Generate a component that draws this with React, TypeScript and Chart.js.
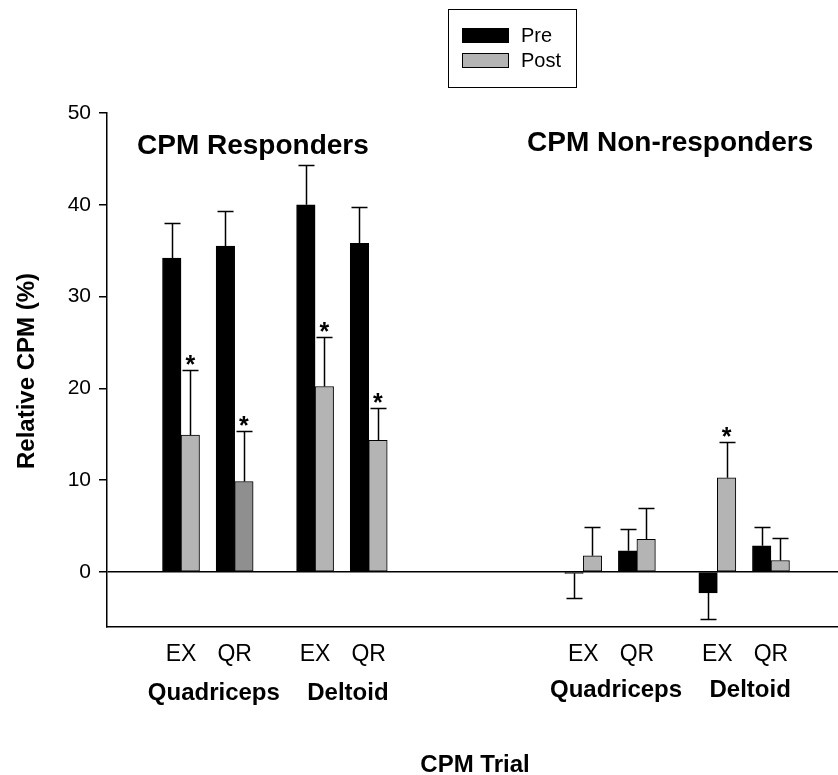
import React, { useEffect, useRef } from 'react';
import { Chart, registerables } from 'chart.js';

Chart.register(...registerables);

// ---- data ----
const trialLabels = ['EX', 'QR', 'EX', 'QR', 'EX', 'QR', 'EX', 'QR'];
const trialSlots = [0, 2, 5, 7, 15, 17, 20, 22];
const muscleLabels = ['Quadriceps', 'Deltoid', 'Quadriceps', 'Deltoid'];
const panelTitles = ['CPM Responders', 'CPM Non-responders'];
const seriesNames = ['Pre', 'Post'];
const preValues = [34.2, 35.5, 40.0, 35.8, -0.15, 2.3, -2.3, 2.85];
const preErrors = [3.8, 3.8, 4.3, 4.0, 2.7, 2.35, 2.8, 2.05];
const postValues = [14.9, 9.85, 20.2, 14.35, 1.75, 3.55, 10.25, 1.25];
const postErrors = [7.1, 5.45, 5.4, 3.55, 3.15, 3.4, 3.95, 2.45];
const postSignificant = [true, true, true, true, false, false, true, false];
const yTickValues = [0, 10, 20, 30, 40, 50];

// ---- styles ----
const FONT = '"Liberation Sans", Arial, Helvetica, sans-serif';
const PRE_COLOR = '#000000';
const POST_COLOR = '#b4b4b4';
const POST_DARK_COLOR = '#8f8f8f';
const POST_DARK_INDEX = 1;

const overlayPlugin = {
  id: 'overlay',
  afterDatasetsDraw(chart: any) {
    const ctx = chart.ctx;
    const yScale = chart.scales.y;
    const errs = [preErrors, postErrors];
    const vals = [preValues, postValues];
    ctx.save();
    ctx.strokeStyle = '#000';
    ctx.lineWidth = 1.5;
    [0, 1].forEach((d) => {
      const meta = chart.getDatasetMeta(d);
      meta.data.forEach((bar: any, i: number) => {
        const v = vals[d][i];
        const e = errs[d][i];
        const end = v >= 0 ? v + e : v - e;
        const y0 = bar.y;
        const y1 = Math.round(yScale.getPixelForValue(end)) + 0.5;
        const x = Math.round(bar.x) + 0.5;
        ctx.beginPath();
        ctx.moveTo(x, y0);
        ctx.lineTo(x, y1);
        ctx.moveTo(x - 8, y1);
        ctx.lineTo(x + 8, y1);
        ctx.stroke();
        if (d === 1 && postSignificant[i]) {
          ctx.fillStyle = '#000';
          ctx.font = `bold 25px ${FONT}`;
          ctx.textAlign = 'center';
          ctx.textBaseline = 'alphabetic';
          ctx.fillText('*', bar.x, y1 + 2);
        }
      });
    });
    ctx.restore();
  },
  afterDraw(chart: any) {
    const ctx = chart.ctx;
    const xScale = chart.scales.x;
    ctx.save();
    ctx.fillStyle = '#000';
    // panel titles
    ctx.font = `bold 28px ${FONT}`;
    ctx.textAlign = 'left';
    ctx.textBaseline = 'alphabetic';
    ctx.fillText(panelTitles[0], 137, 154);
    ctx.fillText(panelTitles[1], 527, 151);
    // muscle labels
    ctx.font = `bold 24px ${FONT}`;
    ctx.textAlign = 'center';
    muscleLabels.forEach((m, k) => {
      const a = xScale.getPixelForValue(trialSlots[2 * k]);
      const b = xScale.getPixelForValue(trialSlots[2 * k + 1]);
      ctx.fillText(m, (a + b) / 2 + 6, k < 2 ? 700 : 697);
    });
    // x title
    ctx.fillText('CPM Trial', 475, 772);
    // y title
    ctx.save();
    ctx.translate(34, 371);
    ctx.rotate(-Math.PI / 2);
    ctx.textBaseline = 'alphabetic';
    ctx.fillText('Relative CPM (%)', 0, 0);
    ctx.restore();
    // legend
    ctx.lineWidth = 1;
    ctx.strokeStyle = '#000';
    ctx.strokeRect(448.5, 9.5, 128, 78);
    const sw = [PRE_COLOR, POST_COLOR];
    const sy = [28, 53];
    ctx.font = `20px ${FONT}`;
    ctx.textAlign = 'left';
    ctx.textBaseline = 'middle';
    seriesNames.forEach((n, i) => {
      ctx.fillStyle = sw[i];
      ctx.fillRect(462, sy[i], 47, 15);
      ctx.strokeRect(462.5, sy[i] + 0.5, 46, 14);
      ctx.fillStyle = '#000';
      ctx.fillText(n, 521, sy[i] + 8);
    });
    ctx.restore();
  },
};

export default function App() {
  const ref = useRef<HTMLCanvasElement>(null);
  useEffect(() => {
    if (!ref.current) return;
    const chart = new Chart(ref.current, {
      type: 'bar',
      data: {
        datasets: [
          {
            label: seriesNames[0],
            data: trialSlots.map((x, i) => ({ x, y: preValues[i] })),
            backgroundColor: PRE_COLOR,
            borderColor: '#000',
            borderWidth: 1,
            borderSkipped: false,
            barThickness: 18.5,
          },
          {
            label: seriesNames[1],
            data: trialSlots.map((x, i) => ({ x, y: postValues[i] })),
            backgroundColor: (c: any) => (c.dataIndex === POST_DARK_INDEX ? POST_DARK_COLOR : POST_COLOR),
            borderColor: '#000',
            borderWidth: 1,
            borderSkipped: false,
            barThickness: 18.5,
          },
        ],
      } as any,
      plugins: [overlayPlugin],
      options: {
        responsive: false,
        animation: false,
        devicePixelRatio: 1,
        layout: { padding: { top: 113, left: 0, right: 0, bottom: 0 } },
        plugins: {
          legend: { display: false },
          tooltip: { enabled: false },
        },
        scales: {
          x: {
            type: 'linear',
            offset: false,
            min: -2.76,
            max: 24.5,
            grid: { display: false, drawTicks: false, offset: false },
            border: { display: true, color: '#000', width: 1.5 },
            afterBuildTicks: (s: any) => {
              s.ticks = trialSlots.map((v) => ({ value: v }));
            },
            afterFit: (s: any) => {
              s.height = 148;
            },
            ticks: {
              autoSkip: false,
              maxRotation: 0,
              padding: 14,
              color: '#000',
              font: { family: FONT, size: 23 },
              callback: (v: any) => {
                const i = trialSlots.indexOf(Number(v));
                return i >= 0 ? trialLabels[i] : '';
              },
            },
          },
          y: {
            min: -6,
            max: 50,
            afterBuildTicks: (s: any) => {
              s.ticks = yTickValues.map((v) => ({ value: v }));
            },
            afterFit: (s: any) => {
              s.width = 107;
            },
            grid: {
              drawOnChartArea: true,
              drawTicks: true,
              tickLength: 8,
              lineWidth: 1.5,
              tickColor: '#000',
              color: (c: any) => (c.tick && c.tick.value === 0 ? '#000' : 'rgba(0,0,0,0)'),
            },
            border: { display: true, color: '#000', width: 1.5 },
            ticks: {
              padding: 8,
              color: '#000',
              font: { family: FONT, size: 21 },
            },
          },
        },
      } as any,
    });
    return () => chart.destroy();
  }, []);
  return (
    <div style={{ position: 'absolute', left: 0, top: 0, width: 838, height: 775, background: '#fff' }}>
      <canvas ref={ref} width={838} height={775} style={{ display: 'block' }} />
    </div>
  );
}
